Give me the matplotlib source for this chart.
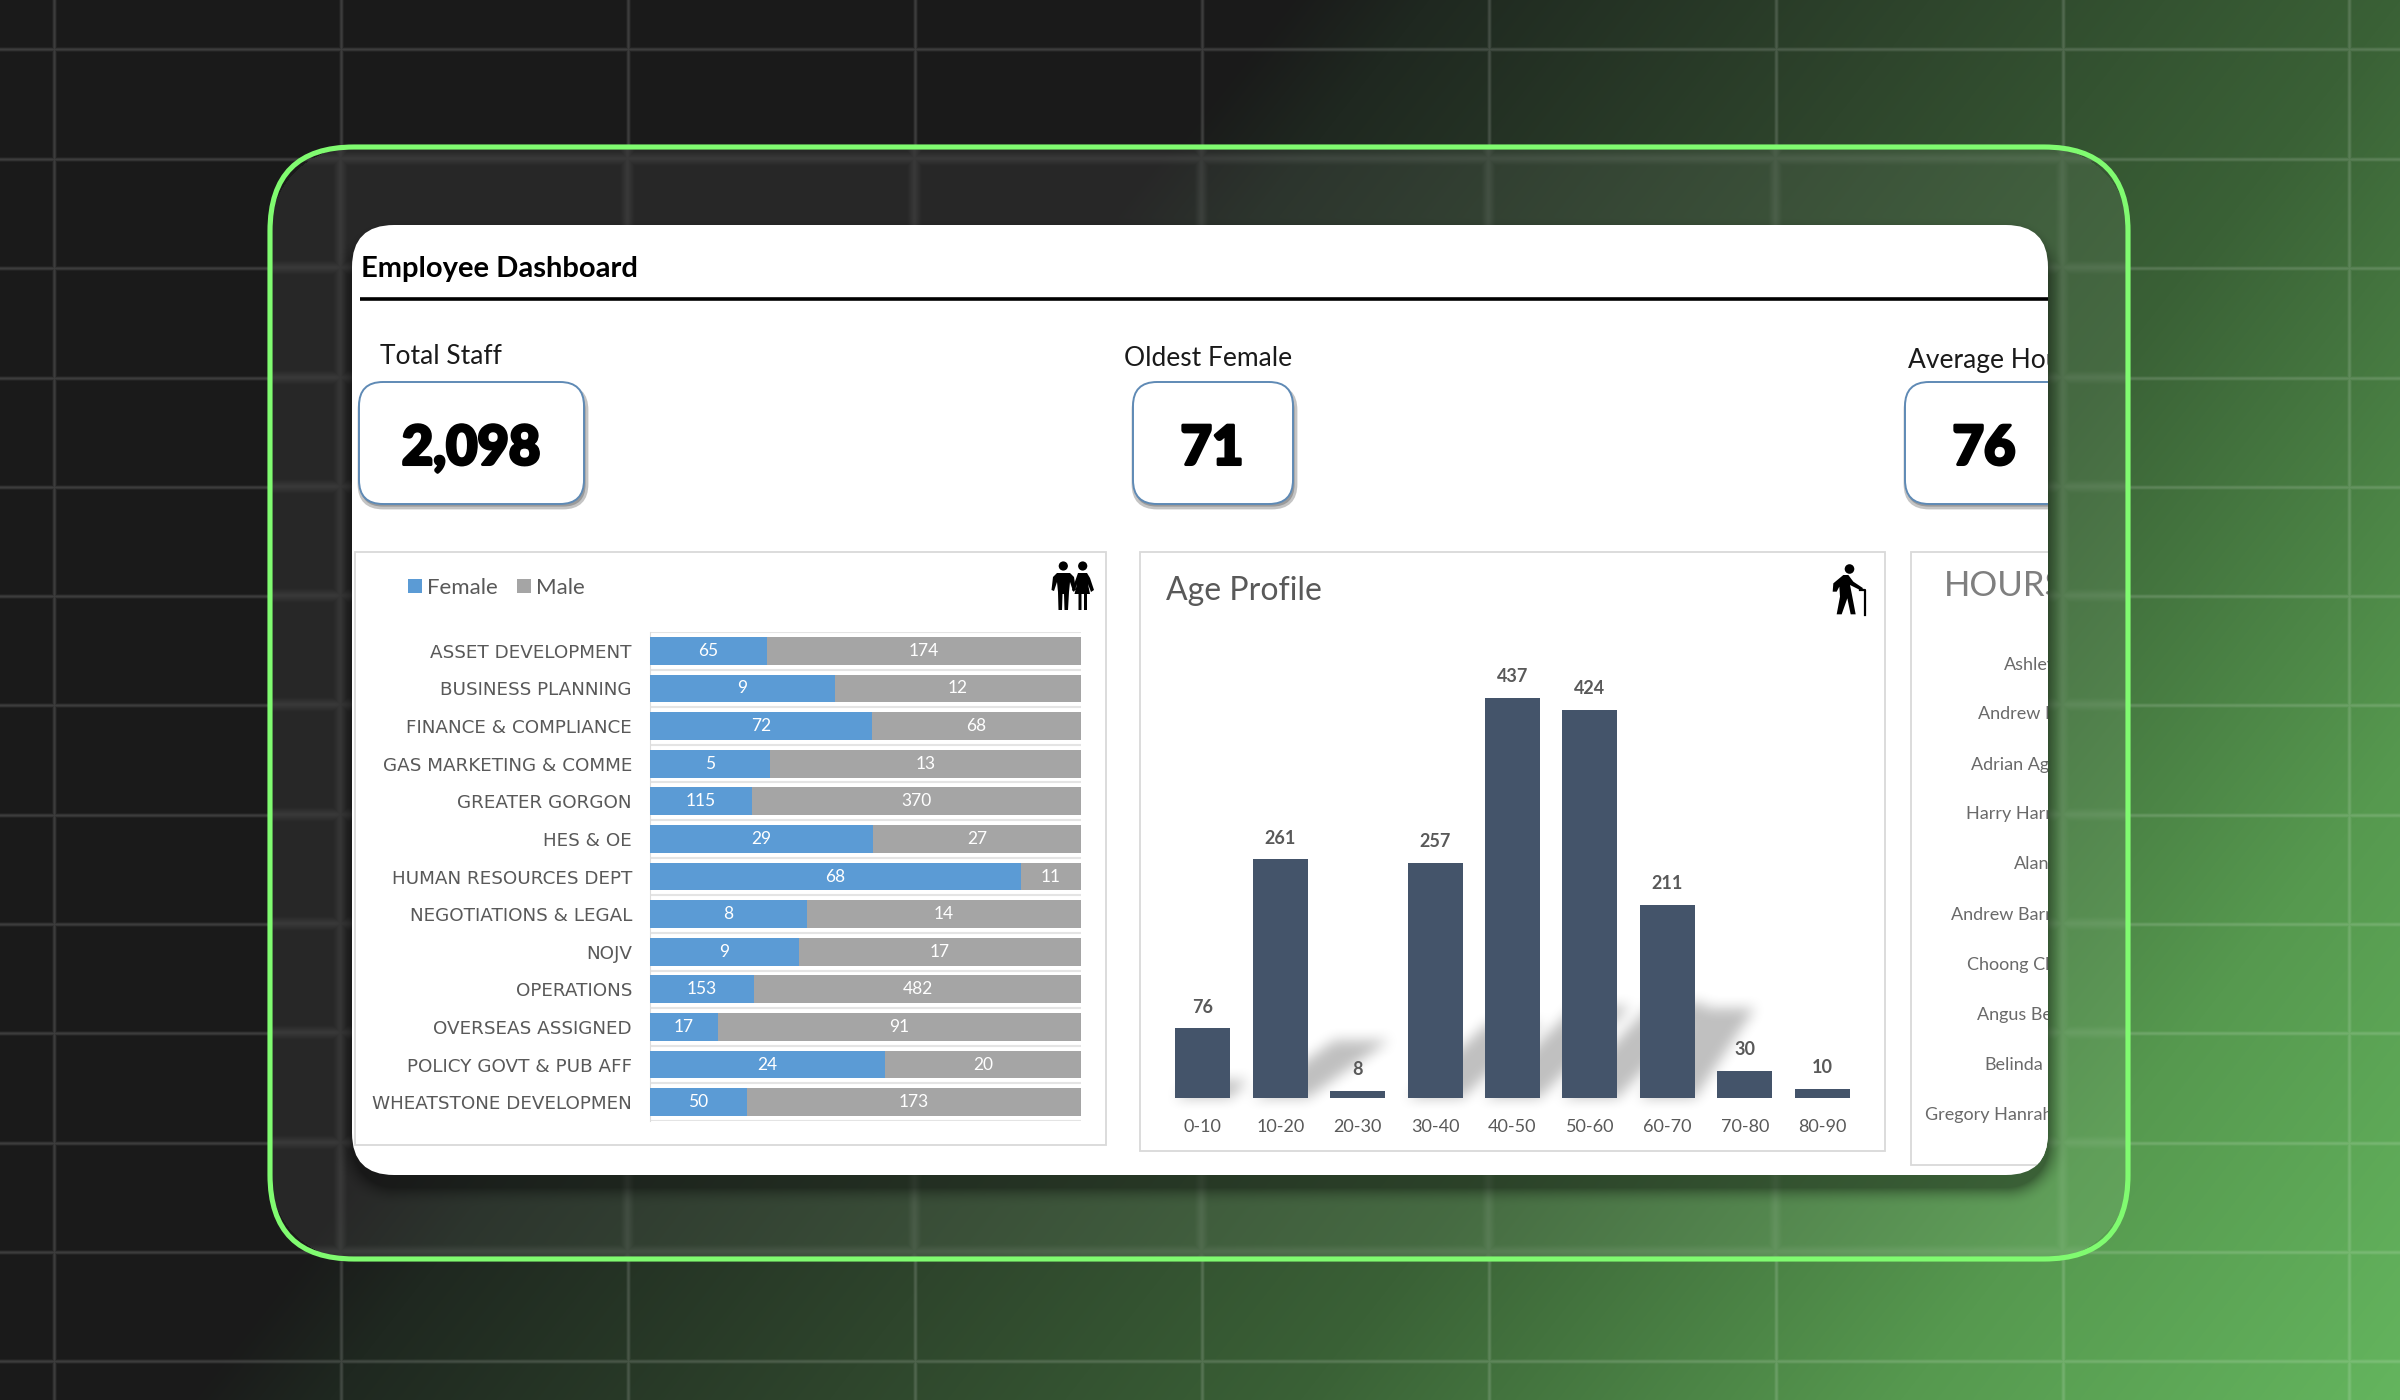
import numpy as np
import matplotlib
matplotlib.use('Agg')
import matplotlib.pyplot as plt
import matplotlib.patheffects as pe
from matplotlib.patches import FancyBboxPatch, Rectangle, Polygon, Circle
from matplotlib.path import Path
from matplotlib.transforms import Bbox

W = 2400
H = 1400

# left chart
departments = ['ASSET DEVELOPMENT', 'BUSINESS PLANNING', 'FINANCE & COMPLIANCE', 'GAS MARKETING & COMME',
               'GREATER GORGON', 'HES & OE', 'HUMAN RESOURCES DEPT', 'NEGOTIATIONS & LEGAL', 'NOJV',
               'OPERATIONS', 'OVERSEAS ASSIGNED', 'POLICY GOVT & PUB AFF', 'WHEATSTONE DEVELOPMEN']
female = [65, 9, 72, 5, 115, 29, 68, 8, 9, 153, 17, 24, 50]
male = [174, 12, 68, 13, 370, 27, 11, 14, 17, 482, 91, 20, 173]

# age chart
age_groups = ['0-10', '10-20', '20-30', '30-40', '40-50', '50-60', '60-70', '70-80', '80-90']
age_counts = [76, 261, 8, 257, 437, 424, 211, 30, 10]
# the slanted soft shadow behind each age bar: height and sideways shift, px
shadow_h = [18, 58, 0, 75, 92, 95, 90, 0, 0]
shadow_dx = [18, 82, 0, 80, 90, 90, 60, 0, 0]

# third panel, cut off by the card edge
hours_names = ['Ashley', 'Andrew H', 'Adrian Agnew', 'Harry Harris', 'Alan', 'Andrew Barnes',
               'Choong Chan', 'Angus Bell', 'Belinda', 'Gregory Hanrahan']
hours_left = [2004, 1978, 1971, 1966, 2014, 1951, 1967, 1977, 1984, 1925]
hours_y = [665, 714, 765, 814, 864, 915, 965, 1015, 1065, 1115]

grid_x = [53, 340, 627, 914, 1201, 1488, 1775, 2062, 2348]
grid_y = [48, 158, 267, 377, 486, 595, 704, 814, 923, 1032, 1142, 1251, 1360]

plt.rcParams['font.family'] = ['Lato', 'DejaVu Sans']


def sdf(xx, yy, x0, y0, x1, y1, r):
    # signed distance to a rounded box
    qx = np.abs(xx - (x0 + x1) / 2) - (x1 - x0) / 2 + r
    qy = np.abs(yy - (y0 + y1) / 2) - (y1 - y0) / 2 + r
    return np.hypot(np.maximum(qx, 0), np.maximum(qy, 0)) + np.minimum(np.maximum(qx, qy), 0) - r


def blur1d(a, n):
    k = np.ones(n) / n
    return np.convolve(np.convolve(a, k, mode='same'), k, mode='same')


def blur2d(a, n):
    a = np.apply_along_axis(blur1d, 0, a, n)
    return np.apply_along_axis(blur1d, 1, a, n)


def background():
    yy, xx = np.mgrid[0:H, 0:W]
    t = (xx * 1400.0 + yy * 1100.0) / 1e6
    stops = [1.8, 2.0, 2.7, 3.36, 4.2, 4.9]
    r = np.interp(t, stops, [26, 31, 46, 58, 86, 100])
    g = np.interp(t, stops, [26, 40, 69, 97, 153, 181])
    b = np.interp(t, stops, [26, 32, 44, 54, 79, 94])
    grad = np.dstack([r, g, b])

    vl = np.zeros(W)
    hl = np.zeros(H)
    for x in grid_x:
        vl[x - 1:x + 2] = 1
    for y in grid_y:
        hl[y - 1:y + 2] = 1
    sharp = np.maximum(blur1d(vl, 2)[None, :], blur1d(hl, 2)[:, None])[..., None]
    soft = np.maximum(blur1d(vl, 7)[None, :], blur1d(hl, 7)[:, None])[..., None]

    outer = grad * (1 - 0.15 * sharp) + 255 * 0.15 * sharp
    inner = grad * 0.94 + 255 * 0.06
    inner = inner * (1 - 0.2 * soft) + 255 * 0.2 * soft

    mask = (sdf(xx, yy, 270, 147, 2128, 1259, 84) < 0)[..., None]
    img = np.where(mask, inner, outer)

    # card shadow
    d = sdf(xx, yy, 352, 236, 2048, 1187, 42)
    a = 0.38 * np.clip(1 - d / 20, 0, 1) ** 2
    img = img * (1 - a[..., None])
    return np.clip(img, 0, 255).astype(np.uint8)


def px_axes(fig, left, top, right, bottom):
    return fig.add_axes([left / W, 1 - bottom / H, (right - left) / W, (bottom - top) / H])


fig = plt.figure(figsize=(24, 14), dpi=100)

base = fig.add_axes([0, 0, 1, 1], zorder=0)
base.imshow(background(), extent=(0, W, H, 0), aspect='auto', interpolation='nearest')
base.set_xlim(0, W)
base.set_ylim(H, 0)
base.axis('off')

# green frame and white card
base.add_patch(FancyBboxPatch((270 + 84, 147 + 84), 1858 - 168, 1112 - 168, boxstyle='round,pad=84,rounding_size=84',
                              fc='none', ec='#80fb70', lw=3.7))
card = FancyBboxPatch((352 + 42, 225 + 42), 1696 - 84, 950 - 84, boxstyle='round,pad=42,rounding_size=42',
                      fc='white', ec='none')
base.add_patch(card)

# agg only honours a clip box for text, so text stops at the right card edge this way
card_clip = Bbox.from_extents(0, 0, 2048, H)

# header
base.text(361, 277, 'Employee Dashboard', fontsize=21, fontweight='bold', color='#000000', va='baseline')
base.plot([360, 2048], [299, 299], color='black', lw=2.6, solid_capstyle='butt')

# KPI boxes
kpi_labels = ['Total Staff', 'Oldest Female', 'Average Hours']
kpi_values = ['2,098', '71', '76']
kpi_label_x = [380, 1124, 1908]
kpi_label_y = [364, 366, 368]
kpi_boxes = [(359, 584), (1133, 1293), (1905, 2130)]
kpi_text_x = [471, 1212, 1984]
for i in range(3):
    x0, x1 = kpi_boxes[i]
    sh = FancyBboxPatch((x0 + 24, 386 + 24), x1 - x0 - 48 + 3, 122 - 48, boxstyle='round,pad=24,rounding_size=24',
                        fc='#9a9a9a', ec='#c4c4c4', lw=2)
    box = FancyBboxPatch((x0 + 24, 382 + 24), x1 - x0 - 48, 122 - 48, boxstyle='round,pad=24,rounding_size=24',
                         fc='white', ec='#5f8ab5', lw=1.4)
    base.add_patch(sh)
    base.add_patch(box)
    sh.set_clip_path(card)
    box.set_clip_path(card)
    t = base.text(kpi_label_x[i], kpi_label_y[i], kpi_labels[i], fontsize=19, color='#1a1a1a', va='baseline',
                  clip_on=True)
    t.set_clip_box(card_clip)
    t = base.text(kpi_text_x[i], 449, kpi_values[i], fontsize=39, fontweight='black', color='black',
                  ha='center', va='center')
    t.set_path_effects([pe.withStroke(linewidth=2.2, foreground='black')])

# panels
panel_ec = '#d9d9d9'
base.add_patch(Rectangle((355, 552), 751, 593, fc='white', ec=panel_ec, lw=1.3))
base.add_patch(Rectangle((1140, 552), 745, 599, fc='white', ec=panel_ec, lw=1.3))
p3 = Rectangle((1911, 552), 300, 613, fc='white', ec=panel_ec, lw=1.3)
base.add_patch(p3)
p3.set_clip_path(card)

# third panel text
t = base.text(1944, 596, 'HOURS', fontsize=25, color='#7f7f7f', va='baseline', clip_on=True)
t.set_clip_box(card_clip)
for i in range(len(hours_names)):
    t = base.text(hours_left[i], hours_y[i], hours_names[i], fontsize=13, color='#6a6a6a', va='center', clip_on=True)
    t.set_clip_box(card_clip)

base.text(1166, 600, 'Age Profile', fontsize=23, color='#595959', va='baseline')

# couple icon
icon = 'black'
base.add_patch(Circle((1063.3, 566), 4.6, fc=icon, ec='none'))
base.add_patch(Circle((1082.7, 566), 4.6, fc=icon, ec='none'))
base.add_patch(Polygon([(1057, 573), (1070, 573), (1074, 577), (1076, 590), (1073, 591), (1070, 582), (1069, 592),
                        (1068, 610), (1064.5, 610), (1064, 594), (1062.5, 594), (1062, 610), (1058.5, 610),
                        (1058, 592), (1057, 582), (1054, 591), (1051.5, 590), (1053, 577)], fc=icon, ec='none'))
base.add_patch(Polygon([(1078, 573), (1087, 573), (1090, 578), (1094, 590), (1091, 592), (1088, 584), (1090, 594),
                        (1087, 594), (1087, 610), (1084, 610), (1084, 594), (1081.5, 594), (1081.5, 610),
                        (1078.5, 610), (1078.5, 594), (1074.5, 594), (1077, 584), (1074, 592), (1072, 590)],
                       fc=icon, ec='none'))
# man with a cane
base.add_patch(Circle((1849.5, 569), 4.8, fc=icon, ec='none'))
px = [70, 40, 38, 50, 58, 60, 50, 65, 82, 92, 107, 95, 90, 120, 130, 100, 85]
py = [60, 85, 110, 110, 95, 125, 178, 178, 130, 178, 178, 115, 90, 105, 100, 80, 60]
base.add_patch(Polygon([(1820 + a / 3, 555 + b / 3) for a, b in zip(px, py)], fc=icon, ec='none'))
base.plot([1860, 1865, 1865], [590, 590, 615], color=icon, lw=1.6)

# left chart
ax = px_axes(fig, 650, 632, 1081, 1121)
ax.set_zorder(2)
ax.patch.set_visible(False)
y = np.arange(len(departments))
f = np.array(female, dtype=float)
m = np.array(male, dtype=float)
share_f = f / (f + m)
share_m = m / (f + m)
b1 = ax.barh(y, share_f, height=0.74, color='#5b9bd5', label='Female', zorder=3)
b2 = ax.barh(y, share_m, left=share_f, height=0.74, color='#a5a5a5', label='Male', zorder=3)
ax.bar_label(b1, labels=[str(v) for v in female], label_type='center', color='white', fontsize=12.5)
ax.bar_label(b2, labels=[str(v) for v in male], label_type='center', color='white', fontsize=12.5)
ax.set_xlim(0, 1)
ax.set_ylim(len(departments) - 0.5, -0.5)
ax.set_yticks(y)
ax.set_yticklabels(departments, family='DejaVu Sans', fontsize=13.2, color='#595959')
ax.set_yticks(np.arange(-0.5, len(departments)), minor=True)
ax.set_xticks([])
ax.tick_params(axis='y', which='both', length=0, pad=13)
ax.grid(True, axis='y', which='minor', color='#e4e4e4', lw=1.5, zorder=1)
for s in ['top', 'right', 'bottom']:
    ax.spines[s].set_visible(False)
ax.spines['left'].set_color('#dcdcdc')
fig.legend(handles=[b1, b2], loc='center left', bbox_to_anchor=(408 / W, 1 - 588 / H), ncol=2, frameon=False,
           fontsize=16, labelcolor='#595959', handlelength=0.62, handleheight=0.62, handletextpad=0.22,
           columnspacing=0.9, borderpad=0, borderaxespad=0)

# age chart
ax2 = px_axes(fig, 1164, 620, 1861, 1098)
ax2.set_zorder(2)
ax2.patch.set_visible(False)
x = np.arange(len(age_groups))
bars = ax2.bar(x, age_counts, width=0.71, color='#44546a', zorder=3)
ax2.set_xlim(-0.5, len(age_groups) - 0.5)
ax2.set_ylim(0, 522)
ax2.set_xticks(x)
ax2.set_xticklabels(age_groups, fontsize=13, color='#595959')
ax2.set_yticks([])
ax2.tick_params(axis='x', length=0, pad=15)
for s in ax2.spines.values():
    s.set_visible(False)
for i in range(len(age_counts)):
    ax2.annotate(str(age_counts[i]), (x[i], age_counts[i]), xytext=(0, 9), textcoords='offset points',
                 ha='center', va='bottom', fontsize=13, fontweight='bold', color='#595959')

# soft shadows of the bars, worked out from where the bars really are
fig.canvas.draw()
sl, st, sr, sb = 1160, 965, 1875, 1115
yy, xx = np.mgrid[st:sb, sl:sr]
pts = np.column_stack([xx.ravel() + 0.5, yy.ravel() + 0.5])
lay = np.zeros(xx.shape)
for i, bar in enumerate(bars):
    if shadow_h[i] == 0:
        continue
    p0 = ax2.transData.transform((bar.get_x(), 0))
    p1 = ax2.transData.transform((bar.get_x() + bar.get_width(), 0))
    xl, xr, yb = p0[0], p1[0], H - p0[1]
    poly = Path([(xl, yb), (xr, yb), (xr + shadow_dx[i], yb - shadow_h[i]), (xl + shadow_dx[i], yb - shadow_h[i]),
                 (xl, yb)])
    lay = np.maximum(lay, poly.contains_points(pts).reshape(xx.shape).astype(float))
lay = blur2d(lay, 15)
rgba = np.zeros(xx.shape + (4,))
rgba[..., 3] = lay * 0.25
base.imshow(rgba, extent=(sl, sr, sb, st), aspect='auto', zorder=5)
base.set_xlim(0, W)
base.set_ylim(H, 0)

fig.savefig('out.png', dpi=100)
